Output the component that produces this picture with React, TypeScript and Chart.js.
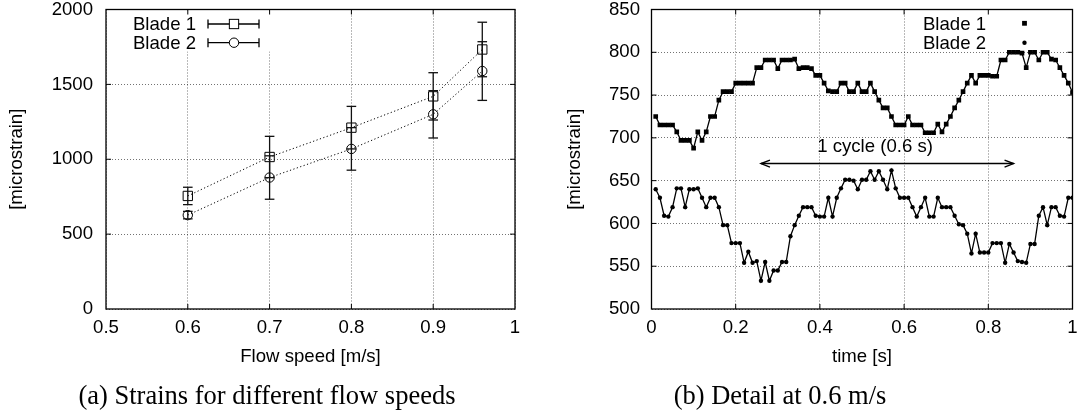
import React, { useEffect, useRef } from "react";
import { Chart, registerables } from "chart.js";

Chart.register(...registerables);

const SANS = "'Liberation Sans', Arial, Helvetica, sans-serif";
const SERIF = "'Liberation Serif', 'Times New Roman', serif";
const FS = 18.6;

// ---------- Panel (a): strains vs flow speed ----------
const seriesNames = ["Blade 1", "Blade 2"];
const flowSpeeds = [0.6, 0.7, 0.8, 0.9, 0.96];
const blade1Strain = [755, 1015, 1211, 1420, 1733];
const blade1Error = [58, 138, 142, 158, 182];
const blade2Strain = [627, 878, 1069, 1300, 1589];
const blade2Error = [25, 145, 142, 158, 196];
const flowTicks = [0.5, 0.6, 0.7, 0.8, 0.9, 1];
const strainTicks = [0, 500, 1000, 1500, 2000];
const captionA = "(a) Strains for different flow speeds";

// ---------- Panel (b): detail at 0.6 m/s ----------
const sampleCount = 100;
const sampleStep = 0.01;
const detailBlade1 = [
  725, 715, 715, 715, 715, 707, 697, 697, 697, 688,
  707, 697, 707, 725, 725, 744, 754, 754, 754, 764,
  764, 764, 764, 764, 782, 782, 791, 791, 791, 781,
  791, 791, 791, 792, 781, 782, 782, 781, 773, 773,
  764, 755, 754, 754, 764, 764, 754, 754, 764, 754,
  754, 764, 754, 744, 735, 735, 725, 715, 715, 715,
  725, 715, 715, 715, 706, 706, 706, 716, 707, 716,
  725, 735, 744, 754, 764, 773, 764, 773, 773, 773,
  772, 772, 791, 791, 800, 800, 800, 799, 782, 800,
  800, 791, 800, 800, 792, 791, 782, 773, 764, 753,
];
const detailBlade2 = [
  640, 630, 609, 608, 619, 641, 641, 619, 640, 640,
  641, 630, 619, 630, 630, 619, 598, 598, 577, 577,
  577, 554, 567, 554, 556, 533, 555, 533, 545, 545,
  555, 555, 585, 598, 609, 619, 619, 619, 609, 608,
  608, 630, 608, 630, 641, 651, 651, 650, 640, 651,
  651, 661, 651, 661, 651, 640, 662, 641, 630, 630,
  630, 619, 608, 619, 630, 608, 608, 630, 619, 619,
  619, 609, 599, 598, 588, 565, 588, 566, 566, 566,
  577, 577, 577, 554, 576, 566, 556, 555, 554, 576,
  576, 609, 619, 598, 619, 619, 609, 608, 630, 630,
];
const timeTicks = [0, 0.2, 0.4, 0.6, 0.8, 1];
const detailTicks = [500, 550, 600, 650, 700, 750, 800, 850];
const cycleLabel = "1 cycle (0.6 s)";
const cycleStart = 0.26;
const cycleEnd = 0.86;
const cycleLevel = 670;
const cycleLabelT = 0.531;
const cycleLabelLevel = 689;
const captionB = "(b) Detail at 0.6 m/s";

const sampleTimes = Array.from({ length: sampleCount }, (_, i) => Number(((i + 1) * sampleStep).toFixed(2)));

const fmt = (v: any) => String(parseFloat(Number(v).toFixed(2)));

function line(ctx: CanvasRenderingContext2D, x1: number, y1: number, x2: number, y2: number) {
  ctx.beginPath();
  ctx.moveTo(x1, y1);
  ctx.lineTo(x2, y2);
  ctx.stroke();
}

function makeFramePlugin() {
  return {
    id: "frameTicks",
    afterDatasetsDraw(chart: any) {
      const { ctx, chartArea: a, scales } = chart;
      ctx.save();
      ctx.setLineDash([]);
      ctx.strokeStyle = "#000";
      ctx.lineWidth = 1;
      const L = 5;
      scales.x.ticks.forEach((t: any) => {
        const px = scales.x.getPixelForValue(t.value);
        if (px <= a.left + 1 || px >= a.right - 1) return;
        line(ctx, px, a.bottom, px, a.bottom - L);
        line(ctx, px, a.top, px, a.top + L);
      });
      scales.y.ticks.forEach((t: any) => {
        const py = scales.y.getPixelForValue(t.value);
        if (py <= a.top + 1 || py >= a.bottom - 1) return;
        line(ctx, a.left, py, a.left + L, py);
        line(ctx, a.right, py, a.right - L, py);
      });
      ctx.lineWidth = 1.3;
      ctx.strokeRect(a.left, a.top, a.right - a.left, a.bottom - a.top);
      ctx.restore();
    },
  };
}

function keyWhiteout(xFrom: number, xTo: number, yTo: number) {
  return {
    id: "keyWhiteout",
    beforeDatasetsDraw(chart: any) {
      const { ctx, chartArea: a } = chart;
      ctx.save();
      ctx.fillStyle = "#fff";
      const l = Math.max(a.left + 1, xFrom);
      const r = Math.min(a.right - 1, xTo);
      ctx.fillRect(l, a.top + 1, r - l, yTo - a.top - 1);
      ctx.restore();
    },
  };
}

const errorBarPlugin = {
  id: "errorBars",
  afterDatasetsDraw(chart: any) {
    const { ctx, scales } = chart;
    ctx.save();
    ctx.setLineDash([]);
    ctx.strokeStyle = "#111";
    ctx.lineWidth = 1.3;
    const cap = 4.8;
    chart.data.datasets.forEach((ds: any) => {
      if (!ds.errors) return;
      ds.data.forEach((p: any, i: number) => {
        const x = scales.x.getPixelForValue(p.x);
        const yt = scales.y.getPixelForValue(p.y + ds.errors[i]);
        const yb = scales.y.getPixelForValue(p.y - ds.errors[i]);
        line(ctx, x, yt, x, yb);
        line(ctx, x - cap, yt, x + cap, yt);
        line(ctx, x - cap, yb, x + cap, yb);
      });
    });
    ctx.restore();
  },
};

const leftLegendPlugin = {
  id: "leftLegend",
  afterDraw(chart: any) {
    const { ctx } = chart;
    const rows = [24, 42.7];
    ctx.save();
    ctx.font = `${FS}px ${SANS}`;
    ctx.fillStyle = "#000";
    ctx.textAlign = "right";
    ctx.textBaseline = "middle";
    chart.data.datasets.forEach((ds: any, i: number) => {
      const y = rows[i];
      ctx.fillStyle = "#000";
      ctx.fillText(ds.label, 196, y + 1);
      ctx.strokeStyle = "#000";
      ctx.lineWidth = 1.3;
      ctx.setLineDash([]);
      line(ctx, 208, y, 259, y);
      line(ctx, 208, y - 4.5, 208, y + 4.5);
      line(ctx, 259, y - 4.5, 259, y + 4.5);
      ctx.lineWidth = 1;
      ctx.fillStyle = "#fff";
      if (ds.pointStyle === "rect") {
        ctx.fillRect(234 - 4.65, y - 4.65, 9.3, 9.3);
        ctx.strokeRect(234 - 4.65, y - 4.65, 9.3, 9.3);
      } else {
        ctx.beginPath();
        ctx.arc(234, y, 4.7, 0, Math.PI * 2);
        ctx.fill();
        ctx.stroke();
      }
    });
    ctx.restore();
  },
};

const rightLegendPlugin = {
  id: "rightLegend",
  afterDraw(chart: any) {
    const { ctx } = chart;
    const rows = [24, 42.7];
    ctx.save();
    ctx.font = `${FS}px ${SANS}`;
    ctx.fillStyle = "#000";
    ctx.textAlign = "right";
    ctx.textBaseline = "middle";
    chart.data.datasets.forEach((ds: any, i: number) => {
      const y = rows[i];
      ctx.fillText(ds.label, 446, y + 1);
      if (ds.pointStyle === "rect") {
        ctx.fillRect(484.5 - 2.4, y - 0.7 - 2.4, 4.8, 4.8);
      } else {
        ctx.beginPath();
        ctx.arc(484.5, y, 2.2, 0, Math.PI * 2);
        ctx.fill();
      }
    });
    ctx.restore();
  },
};

const cyclePlugin = {
  id: "cycleArrow",
  afterDatasetsDraw(chart: any) {
    const { ctx, scales } = chart;
    const x1 = scales.x.getPixelForValue(cycleStart);
    const x2 = scales.x.getPixelForValue(cycleEnd);
    const y = scales.y.getPixelForValue(cycleLevel);
    ctx.save();
    ctx.setLineDash([]);
    ctx.strokeStyle = "#000";
    ctx.lineWidth = 1.4;
    line(ctx, x1, y, x2, y);
    const hl = 9, hw = 3.5;
    ctx.beginPath();
    ctx.moveTo(x1 + hl, y - hw);
    ctx.lineTo(x1, y);
    ctx.lineTo(x1 + hl, y + hw);
    ctx.stroke();
    ctx.beginPath();
    ctx.moveTo(x2 - hl, y - hw);
    ctx.lineTo(x2, y);
    ctx.lineTo(x2 - hl, y + hw);
    ctx.stroke();
    ctx.font = `${FS}px ${SANS}`;
    ctx.fillStyle = "#000";
    ctx.textAlign = "center";
    ctx.textBaseline = "middle";
    ctx.fillText(cycleLabel, scales.x.getPixelForValue(cycleLabelT), scales.y.getPixelForValue(cycleLabelLevel));
    ctx.restore();
  },
};

const tickFont = { family: SANS, size: FS };
const gridStyle = { color: "rgba(0,0,0,0.55)", lineWidth: 1, drawTicks: false };

function LeftChart() {
  const ref = useRef<HTMLCanvasElement>(null);
  useEffect(() => {
    if (!ref.current) return;
    const chart = new Chart(ref.current, {
      type: "scatter",
      data: {
        datasets: [
          {
            label: seriesNames[0],
            data: flowSpeeds.map((x, i) => ({ x, y: blade1Strain[i] })),
            errors: blade1Error,
            showLine: true,
            borderColor: "#000",
            borderWidth: 1,
            borderDash: [1.2, 2.4],
            pointStyle: "rect",
            pointRadius: 6.6,
            pointBorderWidth: 1,
            pointBorderColor: "#000",
            pointBackgroundColor: "rgba(0,0,0,0)",
          } as any,
          {
            label: seriesNames[1],
            data: flowSpeeds.map((x, i) => ({ x, y: blade2Strain[i] })),
            errors: blade2Error,
            showLine: true,
            borderColor: "#000",
            borderWidth: 1,
            borderDash: [1.2, 2.4],
            pointStyle: "circle",
            pointRadius: 4.7,
            pointBorderWidth: 1,
            pointBorderColor: "#000",
            pointBackgroundColor: "rgba(0,0,0,0)",
          } as any,
        ],
      },
      options: {
        responsive: false,
        animation: false,
        events: [],
        layout: { padding: { top: 9.5, left: 0, right: 25, bottom: 51 } },
        plugins: { legend: { display: false }, tooltip: { enabled: false } },
        scales: {
          x: {
            type: "linear",
            min: 0.5,
            max: 1,
            afterBuildTicks: (s: any) => {
              s.ticks = flowTicks.map((v) => ({ value: v }));
            },
            ticks: { font: tickFont, color: "#000", padding: 8, maxRotation: 0, autoSkip: false, callback: fmt },
            grid: gridStyle,
            border: { display: false, dash: [1, 2] },
            title: { display: true, text: "Flow speed [m/s]", font: tickFont, color: "#000", padding: 0 },
            afterFit: (s: any) => {
              s.height = 59;
              s.paddingLeft = 0;
              s.paddingRight = 0;
            },
          },
          y: {
            type: "linear",
            min: 0,
            max: 2000,
            afterBuildTicks: (s: any) => {
              s.ticks = strainTicks.map((v) => ({ value: v }));
            },
            ticks: { font: tickFont, color: "#000", padding: 13, autoSkip: false, callback: fmt },
            grid: gridStyle,
            border: { display: false, dash: [1, 2] },
            title: { display: true, text: "[microstrain]", font: tickFont, color: "#000", padding: { top: 6, bottom: 0 } },
            afterFit: (s: any) => {
              s.width = 106;
              s.paddingTop = 0;
              s.paddingBottom = 0;
            },
          },
        },
      } as any,
      plugins: [keyWhiteout(0, 276, 51.5), errorBarPlugin, makeFramePlugin(), leftLegendPlugin],
    });
    return () => chart.destroy();
  }, []);
  return <canvas ref={ref} width={540} height={419} style={{ position: "absolute", left: 0, top: 0 }} />;
}

function RightChart() {
  const ref = useRef<HTMLCanvasElement>(null);
  useEffect(() => {
    if (!ref.current) return;
    const chart = new Chart(ref.current, {
      type: "scatter",
      data: {
        datasets: [
          {
            label: seriesNames[0],
            data: sampleTimes.map((x, i) => ({ x, y: detailBlade1[i] })),
            showLine: true,
            borderColor: "#000",
            borderWidth: 1.3,
            pointStyle: "rect",
            pointRadius: 3.3,
            pointBorderWidth: 0,
            pointBackgroundColor: "#000",
          } as any,
          {
            label: seriesNames[1],
            data: sampleTimes.map((x, i) => ({ x, y: detailBlade2[i] })),
            showLine: true,
            borderColor: "#000",
            borderWidth: 1.3,
            pointStyle: "circle",
            pointRadius: 2.2,
            pointBorderWidth: 0,
            pointBackgroundColor: "#000",
          } as any,
        ],
      },
      options: {
        responsive: false,
        animation: false,
        events: [],
        layout: { padding: { top: 9.5, left: 0, right: 8.5, bottom: 51 } },
        plugins: { legend: { display: false }, tooltip: { enabled: false } },
        scales: {
          x: {
            type: "linear",
            min: 0,
            max: 1,
            afterBuildTicks: (s: any) => {
              s.ticks = timeTicks.map((v) => ({ value: v }));
            },
            ticks: { font: tickFont, color: "#000", padding: 8, maxRotation: 0, autoSkip: false, callback: fmt },
            grid: gridStyle,
            border: { display: false, dash: [1, 2] },
            title: { display: true, text: "time [s]", font: tickFont, color: "#000", padding: 0 },
            afterFit: (s: any) => {
              s.height = 59;
              s.paddingLeft = 0;
              s.paddingRight = 0;
            },
          },
          y: {
            type: "linear",
            min: 500,
            max: 850,
            afterBuildTicks: (s: any) => {
              s.ticks = detailTicks.map((v) => ({ value: v }));
            },
            ticks: { font: tickFont, color: "#000", padding: 11.5, autoSkip: false, callback: fmt },
            grid: gridStyle,
            border: { display: false, dash: [1, 2] },
            title: { display: true, text: "[microstrain]", font: tickFont, color: "#000", padding: { top: 23.3, bottom: 0 } },
            afterFit: (s: any) => {
              s.width = 111.5;
              s.paddingTop = 0;
              s.paddingBottom = 0;
            },
          },
        },
      } as any,
      plugins: [keyWhiteout(375, 502, 50.5), makeFramePlugin(), cyclePlugin, rightLegendPlugin],
    });
    return () => chart.destroy();
  }, []);
  return <canvas ref={ref} width={541} height={419} style={{ position: "absolute", left: 540, top: 0 }} />;
}

const captionStyle: React.CSSProperties = {
  position: "absolute",
  top: 382,
  fontFamily: SERIF,
  fontSize: 26.5,
  lineHeight: "26.5px",
  color: "#000",
  textAlign: "center",
  whiteSpace: "nowrap",
};

export default function App() {
  return (
    <div style={{ position: "fixed", left: 0, top: 0, width: 1081, height: 419, background: "#fff", overflow: "hidden" }}>
      <LeftChart />
      <RightChart />
      <div style={{ ...captionStyle, left: 0, width: 534 }}>{captionA}</div>
      <div style={{ ...captionStyle, left: 540, width: 480 }}>{captionB}</div>
    </div>
  );
}
